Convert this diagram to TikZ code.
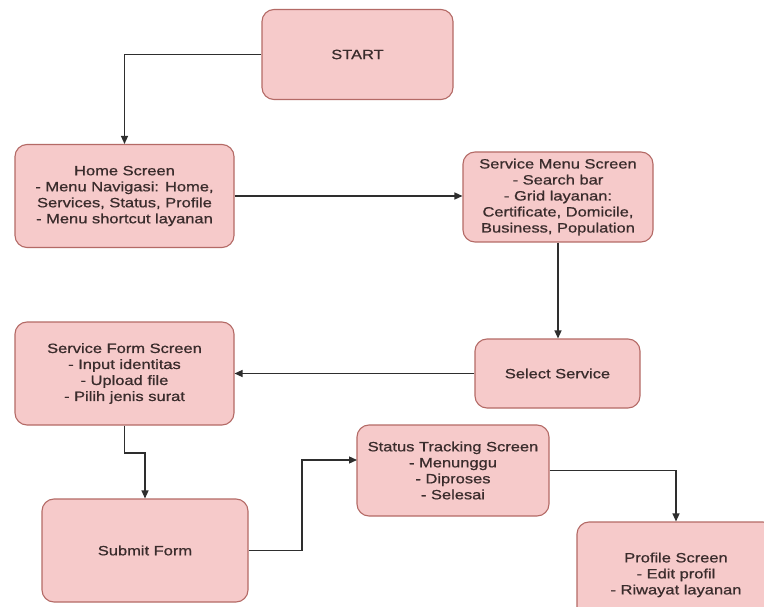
\documentclass[tikz,border=0pt]{standalone}
\usepackage{fontspec}
\setmainfont{Liberation Sans}[FakeStretch=1.22,FakeBold=0.8]
\usetikzlibrary{arrows.meta}
\definecolor{boxfill}{HTML}{F6CACA}
\definecolor{boxline}{HTML}{B46A66}
\definecolor{txt}{HTML}{3A2C2C}
\definecolor{wire}{HTML}{2E2E2E}
\tikzset{
  flowbox/.style={draw=boxline, fill=boxfill, line width=1.1pt, rounded corners=12pt,
    align=center, text=txt, inner sep=2pt,
    font=\fontsize{13.5}{16}\selectfont},
  arr/.style={draw=wire, line width=1.3pt, -{Triangle[length=8pt,width=7pt]}}
}
\begin{document}
\begin{tikzpicture}[x=1pt,y=-1pt]
\useasboundingbox (0,0) rectangle (764,607);
\begin{scope}
\clip (0,0) rectangle (764,607);
\fill[white] (0,0) rectangle (764,607);
\node[flowbox, minimum width=191pt, minimum height=90pt] (start) at (357.5,54.5) {START};
\node[flowbox, minimum width=219pt, minimum height=103pt] (home) at (124.5,196)
  {Home Screen\\ - Menu Navigasi: Home,\\Services, Status, Profile\\ - Menu shortcut layanan};
\node[flowbox, minimum width=190pt, minimum height=90pt] (svc) at (558,197)
  {Service Menu Screen\\ - Search bar\\ - Grid layanan:\\Certificate, Domicile,\\Business, Population};
\node[flowbox, minimum width=165pt, minimum height=69pt] (sel) at (557.5,373.5) {Select Service};
\node[flowbox, minimum width=219pt, minimum height=103pt] (form) at (124.5,373.5)
  {Service Form Screen\\ - Input identitas\\ - Upload file\\ - Pilih jenis surat};
\node[flowbox, minimum width=206pt, minimum height=103pt] (submit) at (145,550.5) {Submit Form};
\node[flowbox, minimum width=192pt, minimum height=91pt] (status) at (453,470.5)
  {Status Tracking Screen\\ - Menunggu\\ - Diproses\\ - Selesai};
\node[flowbox, minimum width=198pt, minimum height=103pt, text depth=0pt] (profile) at (676,573.5)
  {Profile Screen\\ - Edit profil\\ - Riwayat layanan};
\coordinate (formdrop) at (124.5,453);
\coordinate (subturn) at (302,550.5);
\coordinate (statin) at (357,460);

\draw[arr] (start.west) -| (home.north);
\draw[arr] (home.east) -- (home.east -| svc.west);
\draw[arr] (svc.south) -- (svc.south |- sel.north);
\draw[arr] (sel.west) -- (sel.west -| form.east);
\draw[arr] (form.south) -- (formdrop) -| (submit.north);
\draw[arr] (submit.east) -- (subturn) |- (statin);
\draw[arr] (status.east) -| (profile.north);
\end{scope}
\end{tikzpicture}
\end{document}
